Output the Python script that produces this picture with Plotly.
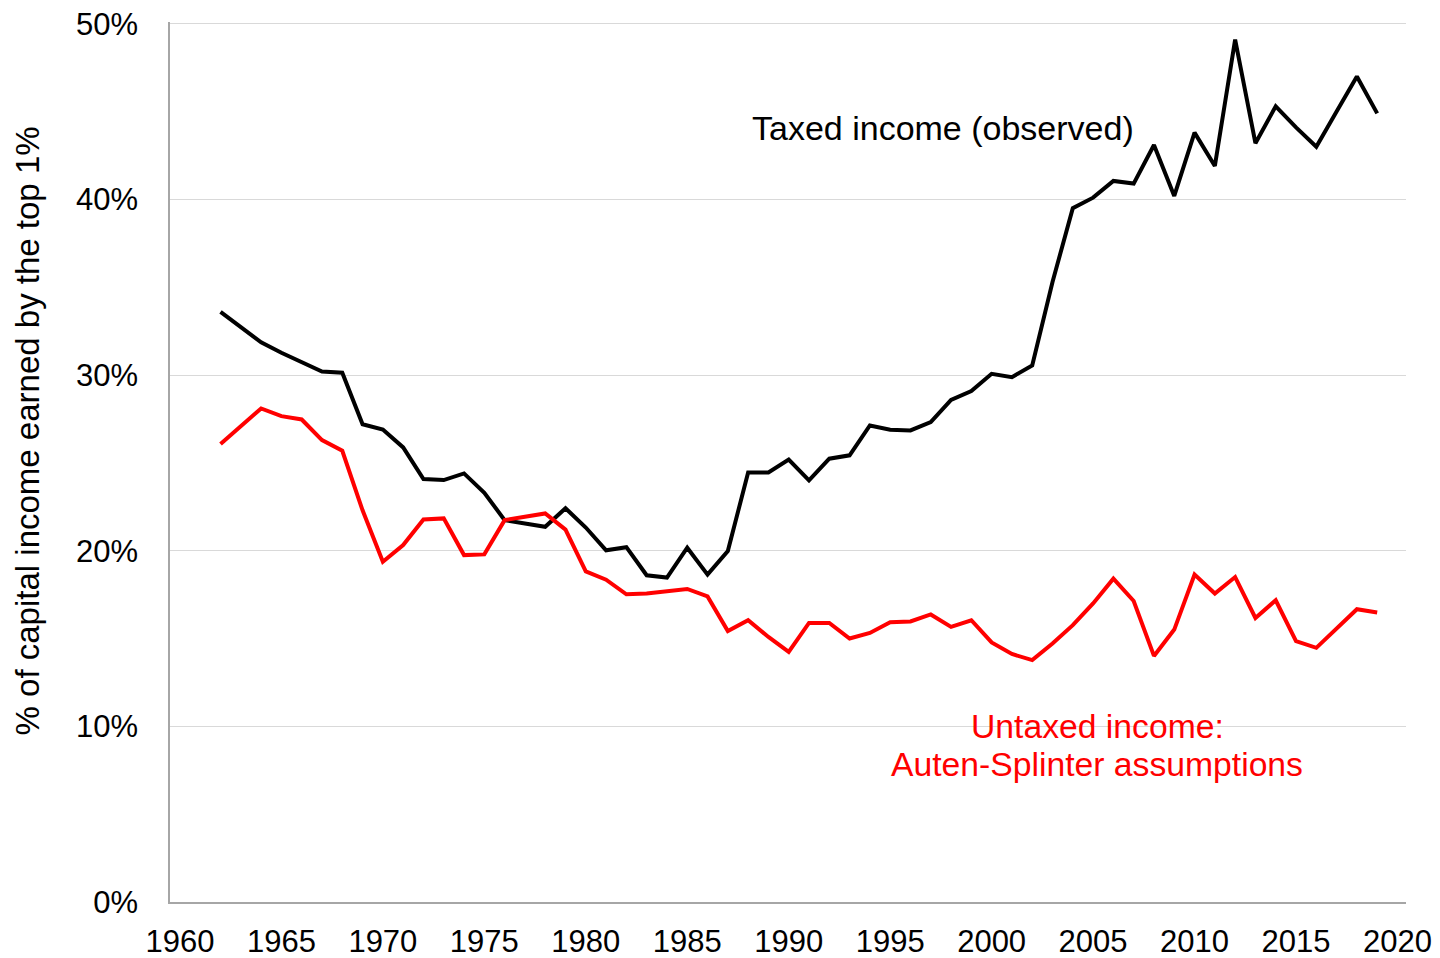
import plotly.graph_objects as go

years = list(range(1962, 2020))

taxed = [33.6, 32.75, 31.86, 31.27, 30.72, 30.2, 30.13, 27.2, 26.9, 25.88,
         24.08, 24.02, 24.4, 23.3, 21.74, 21.53, 21.36, 22.42, 21.32, 20.02,
         20.2, 18.6, 18.47, 20.17, 18.64, 19.98, 24.45, 24.45, 25.19, 24.0,
         25.24, 25.43, 27.13, 26.89, 26.85, 27.32, 28.59, 29.09, 30.07, 29.88,
         30.55, 35.3, 39.5, 40.1, 41.05, 40.9, 43.1, 40.2, 43.8, 41.9,
         49.1, 43.2, 45.3, 44.1, 43.0, 45.0, 47.0, 44.9]

untaxed = [26.07, 27.05, 28.1, 27.66, 27.47, 26.3, 25.69, 22.3, 19.37, 20.32,
           21.78, 21.84, 19.75, 19.79, 21.74, 21.93, 22.12, 21.2, 18.82, 18.35,
           17.52, 17.56, 17.69, 17.82, 17.4, 15.43, 16.04, 15.09, 14.24, 15.89,
           15.89, 15.0, 15.32, 15.93, 15.97, 16.37, 15.66, 16.04, 14.78, 14.12,
           13.77, 14.72, 15.76, 17.0, 18.41, 17.14, 14.01, 15.51, 18.64, 17.56,
           18.5, 16.17, 17.18, 14.85, 14.47, 15.57, 16.67, 16.48]

x_ticks = list(range(1960, 2021, 5))
y_ticks = [0, 10, 20, 30, 40, 50]

label_taxed = "Taxed income (observed)"
label_untaxed_1 = "Untaxed income:"
label_untaxed_2 = "Auten-Splinter assumptions"
y_title = "% of capital income earned by the top 1%"

FONT = "Liberation Sans, Arial, sans-serif"

fig = go.Figure()
fig.add_trace(go.Scatter(x=years, y=taxed, mode="lines",
                         line=dict(color="#000000", width=4),
                         name="Taxed income (observed)"))
fig.add_trace(go.Scatter(x=years, y=untaxed, mode="lines",
                         line=dict(color="#ff0000", width=4),
                         name="Untaxed income"))

fig.add_annotation(x=1997.6, y=44.05, text=label_taxed, showarrow=False,
                   font=dict(family=FONT, size=34, color="#000000"),
                   xanchor="center", yanchor="middle")
fig.add_annotation(x=2005.2, y=10.02, text=label_untaxed_1, showarrow=False,
                   font=dict(family=FONT, size=33.7, color="#ff0000"),
                   xanchor="center", yanchor="middle")
fig.add_annotation(x=2005.2, y=7.87, text=label_untaxed_2, showarrow=False,
                   font=dict(family=FONT, size=33.7, color="#ff0000"),
                   xanchor="center", yanchor="middle")
fig.add_annotation(xref="paper", yref="paper", x=-0.1155, y=0.535,
                   text=y_title, textangle=-90, showarrow=False,
                   font=dict(family=FONT, size=33, color="#000000"),
                   xanchor="center", yanchor="middle")

fig.update_layout(
    width=1440, height=958,
    margin=dict(l=162, r=42, t=14, b=64, autoexpand=False),
    paper_bgcolor="white", plot_bgcolor="white",
    showlegend=False,
    font=dict(family=FONT, size=31, color="#000000"),
    xaxis=dict(range=[1959.51, 2020.42], tickvals=x_ticks,
               ticktext=[str(v) for v in x_ticks],
               showgrid=False, zeroline=False, showline=True,
               linecolor="#a6a6a6", linewidth=1.5,
               ticks="outside", ticklen=11, tickcolor="rgba(0,0,0,0)",
               automargin=False, ticklabeloverflow="allow",
               tickfont=dict(family=FONT, size=31)),
    yaxis=dict(range=[0, 50.1], tickvals=y_ticks,
               ticktext=[f"{v}%" for v in y_ticks],
               showgrid=True, gridcolor="#d9d9d9", gridwidth=1.2,
               zeroline=False, showline=True, linecolor="#a6a6a6",
               linewidth=1.5, ticks="outside", ticklen=24,
               tickcolor="rgba(0,0,0,0)", automargin=False,
               ticklabeloverflow="allow",
               tickfont=dict(family=FONT, size=31)),
)

fig.write_html("out.html")
